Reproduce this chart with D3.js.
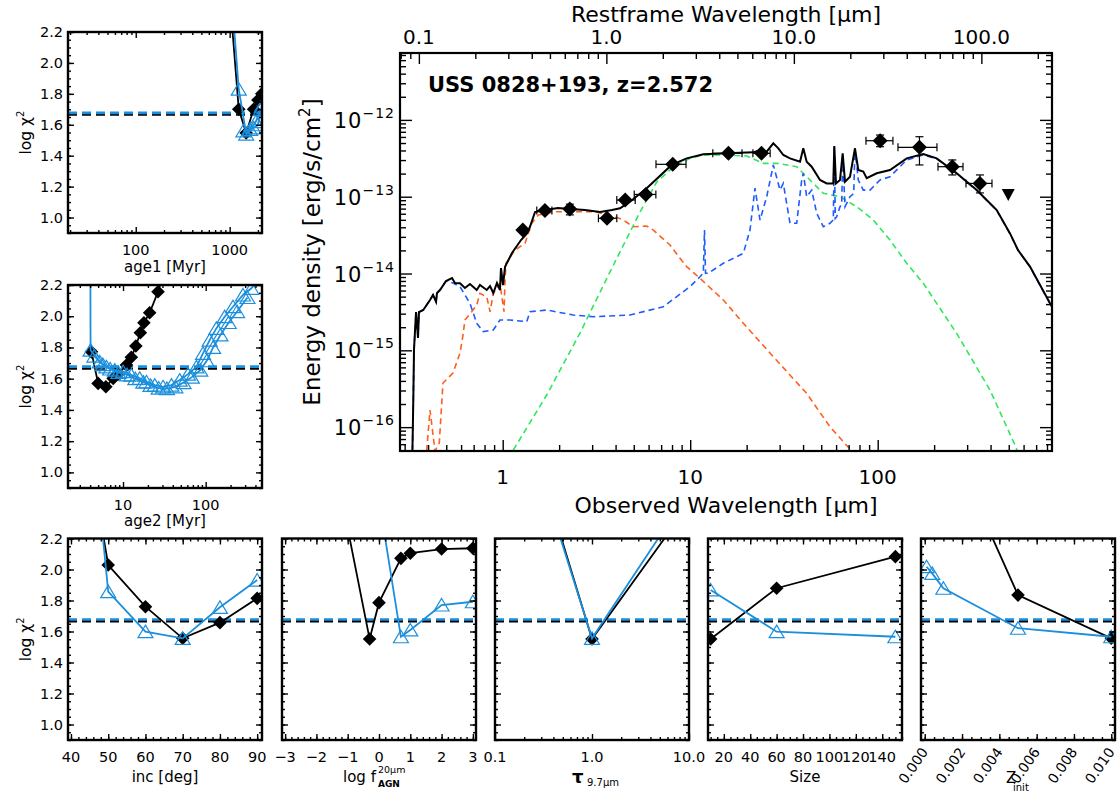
<!DOCTYPE html>
<html><head><meta charset="utf-8">
<script src="https://cdn.jsdelivr.net/npm/d3@7"></script>
<style>
body{margin:0;background:#fff;}
svg{display:block;background:#fff;}
text{font-family:"DejaVu Sans",sans-serif;fill:#000;}
</style></head><body>
<svg id="c" width="1119" height="794"></svg>
<script>
// ---------------- DATA ----------------
const redshift = 2.572;
const sourceName = "USS 0828+193, z=2.572";
const obsRange = [0.2833, 850.5];          // observed wavelength [um]
const fluxRange = [4.89e-17, 7.43e-12];    // energy density [erg/s/cm2]

// [observed wavelength um, flux]
const totalModel = [[0.330,4.9e-17],[0.3336,2.25e-16],[0.3364,1.01e-15],[0.345,3.15e-15],[0.3534,1.45e-15],[0.3577,3.15e-15],[0.377,3.35e-15],[0.4095,4.52e-15],[0.425,5.25e-15],[0.441,4.30e-15],[0.4463,5.57e-15],[0.463,6.10e-15],[0.4985,7.98e-15],[0.5366,8.73e-15],[0.5566,7.52e-15],[0.592,7.45e-15],[0.629,6.48e-15],[0.669,7.30e-15],[0.727,6.10e-15],[0.756,7.08e-15],[0.822,6.10e-15],[0.856,6.88e-15],[0.891,5.57e-15],[0.932,7.52e-15],[0.967,6.10e-15],[0.979,1.18e-14],[1.004,7.08e-15],[1.029,1.22e-14],[1.121,1.85e-14],[1.252,2.73e-14],[1.348,3.33e-14],[1.398,4.06e-14],[1.487,6.32e-14],[1.681,6.71e-14],[1.972,7.13e-14],[2.286,6.92e-14],[2.748,6.71e-14],[3.304,6.32e-14],[3.828,6.71e-14],[4.223,7.06e-14],[4.775,8.61e-14],[5.861,1.29e-13],[7.967,2.59e-13],[9.58,3.16e-13],[11.75,3.56e-13],[15.65,3.67e-13],[21.71,3.78e-13],[23.57,4.06e-13],[25.59,3.85e-13],[27.75,4.95e-13],[29.51,4.27e-13],[31.38,3.49e-13],[34.07,3.16e-13],[38.52,2.86e-13],[40.11,4.27e-13],[41.81,2.86e-13],[44.46,2.46e-13],[49.24,1.65e-13],[53.46,1.49e-13],[57.97,1.49e-13],[58.69,4.57e-13],[59.93,1.49e-13],[62.94,1.65e-13],[65.06,3.67e-13],[66.93,1.57e-13],[71.17,1.82e-13],[75.66,4.27e-13],[78.80,2.23e-13],[83.80,2.12e-13],[87.37,1.74e-13],[98.79,2.02e-13],[116.3,2.23e-13],[142.8,3.16e-13],[175.1,3.60e-13],[206.4,3.16e-13],[263.9,2.02e-13],[337.3,1.22e-13],[431.3,6.71e-14],[507.7,3.33e-14],[560.2,2.02e-14],[649.1,1.23e-14],[829.7,4.09e-15],[850.5,3.70e-15]];

const stellarModel = [[0.393,4.9e-17],[0.4095,1.67e-16],[0.4355,4.9e-17],[0.459,6.21e-17],[0.4803,3.75e-16],[0.543,5.06e-16],[0.592,9.23e-16],[0.612,1.50e-15],[0.629,2.48e-15],[0.683,3.18e-15],[0.727,3.89e-15],[0.756,5.52e-15],[0.822,4.99e-15],[0.856,3.18e-15],[0.891,5.52e-15],[0.967,7.45e-15],[1.016,3.18e-15],[1.029,8.23e-15],[1.041,1.36e-14],[1.163,2.02e-14],[1.315,2.47e-14],[1.428,4.51e-14],[1.549,5.78e-14],[1.900,6.38e-14],[2.521,6.38e-14],[3.107,6.38e-14],[3.972,5.49e-14],[4.398,4.97e-14],[4.972,4.06e-14],[5.861,4.15e-14],[6.356,3.68e-14],[7.803,2.35e-14],[8.822,1.58e-14],[9.58,1.23e-14],[11.28,8.65e-15],[15.02,4.52e-15],[19.2,2.25e-15],[27.75,8.26e-16],[41.81,2.75e-16],[55.67,1.01e-16],[70.55,5.30e-17],[73.8,4.34e-17]];

const starburstModel = [[0.330,4.9e-17],[0.3336,2.25e-16],[0.3364,1.01e-15],[0.345,3.15e-15],[0.3534,1.45e-15],[0.3577,3.15e-15],[0.377,3.35e-15],[0.4095,4.52e-15],[0.425,5.25e-15],[0.441,4.30e-15],[0.4463,5.57e-15],[0.463,6.10e-15],[0.4985,7.98e-15],[0.543,7.52e-15],[0.592,6.73e-15],[0.669,4.09e-15],[0.727,2.25e-15],[0.788,1.75e-15],[0.891,1.84e-15],[0.967,2.48e-15],[1.094,2.48e-15],[1.343,2.36e-15],[1.398,3.18e-15],[1.717,3.35e-15],[2.380,2.88e-15],[3.042,2.74e-15],[4.775,2.88e-15],[7.187,3.70e-15],[9.975,6.73e-15],[11.28,9.08e-15],[11.75,1.01e-14],[11.92,3.68e-14],[12.07,1.01e-14],[12.49,1.01e-14],[15.02,1.36e-14],[19.2,1.83e-14],[20.84,3.68e-14],[22.16,1.29e-13],[23.57,4.97e-14],[25.59,1.00e-13],[27.75,2.59e-13],[30.13,1.22e-13],[31.38,1.49e-13],[34.07,4.51e-14],[36.98,4.51e-14],[39.33,1.65e-13],[40.11,2.02e-13],[41.81,1.00e-13],[44.46,1.22e-13],[47.28,6.08e-14],[51.28,4.06e-14],[55.67,4.51e-14],[58.0,5.0e-14],[58.69,4.50e-13],[59.4,5.2e-14],[60.44,5.49e-14],[62.94,7.41e-14],[64.3,8.0e-14],[65.06,3.60e-13],[66.93,7.41e-14],[71.17,1.00e-13],[74.5,1.1e-13],[75.66,4.20e-13],[78.80,1.65e-13],[83.80,1.22e-13],[90.98,1.22e-13],[102.9,1.65e-13],[116.3,1.82e-13],[142.8,3.01e-13],[175.1,3.49e-13],[206.4,3.12e-13],[263.9,2.00e-13],[337.3,1.21e-13],[431.3,6.65e-14],[507.7,3.30e-14],[560.2,2.00e-14],[649.1,1.22e-14],[829.7,4.05e-15],[850.5,3.67e-15]];

const agnModel = [[1.139,5.03e-17],[1.717,2.62e-16],[2.584,1.68e-15],[3.735,1.05e-14],[4.775,3.47e-14],[5.399,6.32e-14],[6.627,1.55e-13],[8.126,2.44e-13],[9.975,3.16e-13],[11.75,3.49e-13],[15.02,3.49e-13],[20.01,3.39e-13],[24.55,2.72e-13],[28.93,2.72e-13],[36.98,2.46e-13],[43.55,1.65e-13],[51.28,1.11e-13],[62.94,1.00e-13],[77.27,7.41e-14],[94.75,4.97e-14],[116.3,2.73e-14],[142.8,1.36e-14],[175.1,7.45e-15],[263.9,1.66e-15],[397.1,3.04e-16],[539.9,5.85e-17],[553.4,5.03e-17]];

const photWave   = [1.28, 1.68, 2.28, 3.6, 4.5, 5.8, 8.07, 16.0, 24.0, 103, 167, 250, 351];
const photFlux   = [3.68e-14, 6.6e-14, 6.9e-14, 5.24e-14, 9.06e-14, 1.07e-13, 2.64e-13, 3.67e-13, 3.67e-13, 5.36e-13, 4.40e-13, 2.46e-13, 1.49e-13];
const photWaveLo = [null, 1.52, null, 3.24, 4.06, 5.03, 6.57, 13.2, 21.6, 86.6, 128.3, 209.7, 295.7];
const photWaveHi = [null, 1.83, null, 4.06, 5.09, 6.56, 9.50, 18.9, 26.7, 120.6, 207.1, 285.1, 407.0];
const photFluxLo = [null, null, 5.8e-14, null, null, null, null, null, null, 4.48e-13, 2.59e-13, 1.92e-13, 1.12e-13];
const photFluxHi = [null, null, 8.0e-14, null, null, null, null, null, null, 6.35e-13, 6.04e-13, 3.01e-13, 1.92e-13];
const limitWave = [497];
const limitFlux = [1.05e-13];

// chi-square panels
const chiRange = [0.9, 2.2];
const chiRefBlack = 1.666;
const chiRefBlue = 1.677;

const age1Grid     = [1000, 1250, 1500, 1800, 2000, 2200];
const age1ChiBlack = [2.44, 1.70, 1.547, 1.70, 1.76, 1.80];
const age1ChiBlue  = [2.60, 1.83, 1.54, 1.58, 1.60, 1.72];
const age1GridBlue2 = [1400, 1650, 1900, 2150];
const age1ChiBlue2  = [1.56, 1.57, 1.62, 1.70];

const age2GridBlack = [4.15, 5.0, 6.2, 7.6, 8.7, 11.0, 12.6, 14.3, 16.2, 17.9, 21.0, 26.5, 33.0];
const age2ChiBlack  = [1.772, 1.570, 1.548, 1.602, 1.629, 1.687, 1.737, 1.809, 1.894, 1.958, 2.022, 2.157, 2.32];
const age2GridBlue  = [4.0, 4.05, 5.22, 6.3, 7.94, 10, 12.6, 15.9, 19.2, 24.2, 30.5, 38.5, 48.5, 61.1, 77.2, 92.8, 111.6, 134.5, 169.8, 214, 282.5, 357, 450];
const age2ChiBlue   = [3.0, 1.783, 1.708, 1.676, 1.655, 1.645, 1.623, 1.602, 1.580, 1.559, 1.548, 1.559, 1.591, 1.629, 1.676, 1.762, 1.847, 1.922, 1.997, 2.061, 2.136, 2.179, 2.25];
const age2GridBlue2 = [4.5, 5.7, 7.0, 8.8, 11.2, 14.1, 17.6, 21.5, 27, 34, 43, 54, 68, 86, 103, 123, 151, 190, 240, 320];
const age2ChiBlue2  = [1.745, 1.690, 1.662, 1.640, 1.625, 1.600, 1.578, 1.557, 1.540, 1.537, 1.548, 1.575, 1.610, 1.655, 1.715, 1.800, 1.880, 1.960, 2.030, 2.120];

const incGrid     = [40, 50, 60, 70, 80, 90];
const incChiBlack = [3.45, 2.029, 1.760, 1.556, 1.657, 1.814];
const incChiBlue  = [4.31, 1.857, 1.599, 1.556, 1.756, 1.932];

const fagnGrid     = [-3, -2, -1, -0.3, 0, 0.7, 1, 2, 3];
const fagnChiBlack = [2.9, 2.6, 2.264, 1.552, 1.786, 2.072, 2.105, 2.132, 2.137];
const fagnChiBlue  = [3.6, 3.2, 2.9, 2.8, 2.45, 1.566, 1.610, 1.771, 1.792];

const tauGrid     = [0.1, 1.0, 10.0];
const tauChiBlack = [3.61, 1.552, 2.42];
const tauChiBlue  = [3.54, 1.556, 2.50];

const sizeGrid     = [10, 60, 150];
const sizeChiBlack = [1.552, 1.879, 2.083];
const sizeChiBlue  = [1.868, 1.599, 1.566];

const zGrid     = [0.0001, 0.0004, 0.001, 0.005, 0.01];
const zChiBlack = [3.1, 3.05, 2.91, 1.835, 1.556];
const zChiBlue  = [2.018, 1.975, 1.879, 1.621, 1.566];

// ---------------- DRAWING ----------------
const C_ORANGE = "#ff5f1f", C_BLUE = "#1f5bff", C_GREEN = "#2ee85c", C_PBLUE = "#1c8fdc";
const svg = d3.select("#c");
const defs = svg.append("defs");
function clip(id, x, y, w, h) {
  defs.append("clipPath").attr("id", id).append("rect").attr("x", x).attr("y", y).attr("width", w).attr("height", h);
  return `url(#${id})`;
}
function ticks(parent, axisGen, tx, ty, sw) {
  const g = parent.append("g").attr("transform", `translate(${tx},${ty})`).call(axisGen);
  g.select(".domain").remove();
  g.selectAll(".tick text").remove();
  g.selectAll(".tick line").attr("stroke", "#000").attr("stroke-width", sw || 1.4);
  return g;
}
const isDecade = v => Math.abs(Math.log10(v) - Math.round(Math.log10(v))) < 1e-6;
const diamond = r => `M0,${-r}L${r},0L0,${r}L${-r},0Z`;
const triUp = "M0,-6.5L7.5,6L-7.5,6Z";
const triDown = "M-6.5,-6L6.5,-6L0,6Z";

// ---- main SED panel ----
const MP = {l: 400, r: 1052, t: 53, b: 451};
const x = d3.scaleLog().domain(obsRange).range([MP.l, MP.r]);
const xRest = d3.scaleLog().domain(obsRange.map(v => v / (1 + redshift))).range([MP.l, MP.r]);
const y = d3.scaleLog().domain(fluxRange).range([MP.b, MP.t]);
const main = svg.append("g");
const plot = main.append("g").attr("clip-path", clip("cmain", MP.l, MP.t, MP.r - MP.l, MP.b - MP.t));
const line = d3.line().x(d => x(d[0])).y(d => y(d[1]));
plot.append("path").datum(stellarModel).attr("d", line).attr("fill", "none").attr("stroke", C_ORANGE).attr("stroke-width", 1.6).attr("stroke-dasharray", "6,4");
plot.append("path").datum(agnModel).attr("d", line).attr("fill", "none").attr("stroke", C_GREEN).attr("stroke-width", 1.6).attr("stroke-dasharray", "6,4");
plot.append("path").datum(starburstModel).attr("d", line).attr("fill", "none").attr("stroke", C_BLUE).attr("stroke-width", 1.6).attr("stroke-dasharray", "6,4");
plot.append("path").datum(totalModel).attr("d", line).attr("fill", "none").attr("stroke", "#000").attr("stroke-width", 2);

// error bars and points
photWave.forEach((w, i) => {
  const px = x(w), py = y(photFlux[i]);
  if (photWaveLo[i] !== null) {
    const a = x(photWaveLo[i]), b = x(photWaveHi[i]);
    plot.append("line").attr("x1", a).attr("x2", b).attr("y1", py).attr("y2", py).attr("stroke", "#000").attr("stroke-width", 1.2);
    [a, b].forEach(e => plot.append("line").attr("x1", e).attr("x2", e).attr("y1", py - 4).attr("y2", py + 4).attr("stroke", "#000").attr("stroke-width", 1.2));
  }
  if (photFluxLo[i] !== null) {
    const a = y(photFluxLo[i]), b = y(photFluxHi[i]);
    plot.append("line").attr("x1", px).attr("x2", px).attr("y1", a).attr("y2", b).attr("stroke", "#000").attr("stroke-width", 1.2);
    [a, b].forEach(e => plot.append("line").attr("x1", px - 4).attr("x2", px + 4).attr("y1", e).attr("y2", e).attr("stroke", "#000").attr("stroke-width", 1.2));
  }
  plot.append("path").attr("d", diamond(7.5)).attr("transform", `translate(${px},${py})`).attr("fill", "#000");
});
limitWave.forEach((w, i) => {
  plot.append("path").attr("d", triDown).attr("transform", `translate(${x(w)},${y(limitFlux[i])})`).attr("fill", "#000");
});

// axes ticks
const obsMajor = x.ticks().filter(isDecade), obsMinor = x.ticks().filter(v => !isDecade(v));
const restMajor = xRest.ticks().filter(isDecade), restMinor = xRest.ticks().filter(v => !isDecade(v));
const fMajor = y.ticks().filter(isDecade), fMinor = y.ticks().filter(v => !isDecade(v));
ticks(main, d3.axisBottom(x).tickValues(obsMajor).tickSize(-11), 0, MP.b);
ticks(main, d3.axisBottom(x).tickValues(obsMinor).tickSize(-6), 0, MP.b);
ticks(main, d3.axisTop(xRest).tickValues(restMajor).tickSize(-11), 0, MP.t);
ticks(main, d3.axisTop(xRest).tickValues(restMinor).tickSize(-6), 0, MP.t);
ticks(main, d3.axisLeft(y).tickValues(fMajor).tickSize(-12), MP.l, 0);
ticks(main, d3.axisLeft(y).tickValues(fMinor).tickSize(-6), MP.l, 0);
ticks(main, d3.axisRight(y).tickValues(fMajor).tickSize(-12), MP.r, 0);
ticks(main, d3.axisRight(y).tickValues(fMinor).tickSize(-6), MP.r, 0);
main.append("rect").attr("x", MP.l).attr("y", MP.t).attr("width", MP.r - MP.l).attr("height", MP.b - MP.t).attr("fill", "none").attr("stroke", "#000").attr("stroke-width", 2.2);

// labels
obsMajor.forEach(v => main.append("text").attr("x", x(v)).attr("y", MP.b + 33).attr("text-anchor", "middle").attr("font-size", 20).text(String(v)));
restMajor.forEach(v => main.append("text").attr("x", xRest(v)).attr("y", MP.t - 9).attr("text-anchor", "middle").attr("font-size", 20).text(v.toFixed(1)));
fMajor.forEach(v => {
  const t = main.append("text").attr("x", MP.l - 5).attr("y", y(v) + 8).attr("text-anchor", "end").attr("font-size", 21).attr("letter-spacing", 1);
  t.append("tspan").text("10");
  t.append("tspan").attr("font-size", 14).attr("dy", -10).text("\u2212" + Math.round(-Math.log10(v)));
});
main.append("text").attr("x", (MP.l + MP.r) / 2).attr("y", 22).attr("text-anchor", "middle").attr("font-size", 22).text("Restframe Wavelength [\u03bcm]");
main.append("text").attr("x", (MP.l + MP.r) / 2).attr("y", 513).attr("text-anchor", "middle").attr("font-size", 22).text("Observed Wavelength [\u03bcm]");
const yt = main.append("text").attr("transform", `translate(320,${(MP.t + MP.b) / 2}) rotate(-90)`).attr("text-anchor", "middle").attr("font-size", 23);
yt.append("tspan").text("Energy density [erg/s/cm");
yt.append("tspan").attr("font-size", 15).attr("dy", -10).text("2");
yt.append("tspan").attr("dy", 10).text("]");
main.append("text").attr("x", 428).attr("y", 92).attr("font-size", 21).attr("font-weight", "bold").text(sourceName);

// ---- chi-square panels ----
function panel(p) {
  const g = svg.append("g");
  const xs = (p.log ? d3.scaleLog() : d3.scaleLinear()).domain(p.xDomain).range([p.x, p.x + p.w]);
  const ys = d3.scaleLinear().domain(chiRange).range([p.y + p.h, p.y]);
  const inner = g.append("g").attr("clip-path", clip("cp" + p.id, p.x, p.y, p.w, p.h));
  inner.append("line").attr("x1", p.x).attr("x2", p.x + p.w).attr("y1", ys(chiRefBlack)).attr("y2", ys(chiRefBlack)).attr("stroke", "#000").attr("stroke-width", 2.6).attr("stroke-dasharray", "9,5");
  inner.append("line").attr("x1", p.x).attr("x2", p.x + p.w).attr("y1", ys(chiRefBlue)).attr("y2", ys(chiRefBlue)).attr("stroke", C_PBLUE).attr("stroke-width", 2.6).attr("stroke-dasharray", "9,5");
  const ln = d3.line().x(d => xs(d[0])).y(d => ys(d[1]));
  const blk = p.bx.map((v, i) => [v, p.by[i]]);
  const bluSets = [p.ux.map((v, i) => [v, p.uy[i]])];
  if (p.ux2) bluSets.push(p.ux2.map((v, i) => [v, p.uy2[i]]));
  inner.append("path").datum(blk).attr("d", ln).attr("fill", "none").attr("stroke", "#000").attr("stroke-width", 1.8);
  blk.forEach(d => inner.append("path").attr("d", diamond(6.8)).attr("transform", `translate(${xs(d[0])},${ys(d[1])})`).attr("fill", "#000"));
  bluSets.forEach(blu => {
    inner.append("path").datum(blu).attr("d", ln).attr("fill", "none").attr("stroke", C_PBLUE).attr("stroke-width", 1.8);
    blu.forEach(d => inner.append("path").attr("d", triUp).attr("transform", `translate(${xs(d[0])},${ys(d[1])})`).attr("fill", "none").attr("stroke", C_PBLUE).attr("stroke-width", 1.2));
  });
  // ticks
  let xMaj, xMin;
  if (p.log) { xMaj = xs.ticks().filter(isDecade); xMin = xs.ticks().filter(v => !isDecade(v)); }
  else { xMaj = xs.ticks(p.nMaj); xMin = xs.ticks(p.nMin); }
  const yMaj = ys.ticks(7), yMin = ys.ticks(26);
  ticks(g, d3.axisBottom(xs).tickValues(xMaj).tickSize(-6), 0, p.y + p.h);
  ticks(g, d3.axisBottom(xs).tickValues(xMin).tickSize(-3), 0, p.y + p.h);
  ticks(g, d3.axisTop(xs).tickValues(xMaj).tickSize(-6), 0, p.y);
  ticks(g, d3.axisTop(xs).tickValues(xMin).tickSize(-3), 0, p.y);
  ticks(g, d3.axisLeft(ys).tickValues(yMaj).tickSize(-6), p.x, 0);
  ticks(g, d3.axisLeft(ys).tickValues(yMin).tickSize(-3), p.x, 0);
  ticks(g, d3.axisRight(ys).tickValues(yMaj).tickSize(-6), p.x + p.w, 0);
  ticks(g, d3.axisRight(ys).tickValues(yMin).tickSize(-3), p.x + p.w, 0);
  g.append("rect").attr("x", p.x).attr("y", p.y).attr("width", p.w).attr("height", p.h).attr("fill", "none").attr("stroke", "#000").attr("stroke-width", 2.4);
  // tick labels
  const lbY = p.y + p.h + 22;
  if (p.rotLabels) {
    xMaj.forEach(v => g.append("text").attr("transform", `translate(${xs(v) + 4},${p.y + p.h + 12}) rotate(-55)`).attr("text-anchor", "end").attr("font-size", 14).text(p.fmt(v)));
  } else {
    xMaj.forEach(v => g.append("text").attr("x", xs(v)).attr("y", lbY).attr("text-anchor", "middle").attr("font-size", 14.5).text(p.fmt(v)));
  }
  if (p.yLabels) {
    yMaj.forEach(v => g.append("text").attr("x", p.x - 5).attr("y", ys(v) + 5).attr("text-anchor", "end").attr("font-size", 14.5).text(v.toFixed(1)));
    const t = g.append("text").attr("transform", `translate(31,${p.y + p.h / 2}) rotate(-90)`).attr("text-anchor", "middle").attr("font-size", 15.5);
    t.append("tspan").text("log \u03c7");
    t.append("tspan").attr("font-size", 10).attr("dy", -7).text("2");
  }
  p.title(g, p.x + p.w / 2, p.y + p.h);
  return g;
}
const fmtInt = d3.format("d");
const simpleTitle = (s, dy) => (g, cx, by) => g.append("text").attr("x", cx).attr("y", by + dy).attr("text-anchor", "middle").attr("font-size", 15).text(s);

panel({id: "a1", x: 68, y: 32, w: 194, h: 201, log: true, xDomain: [19, 2210], bx: age1Grid, by: age1ChiBlack, ux: age1Grid, uy: age1ChiBlue, ux2: age1GridBlue2, uy2: age1ChiBlue2, fmt: fmtInt, yLabels: true, title: simpleTitle("age1 [Myr]", 39)});
panel({id: "a2", x: 68, y: 285, w: 194, h: 203, log: true, xDomain: [2.16, 480], bx: age2GridBlack, by: age2ChiBlack, ux: age2GridBlue, uy: age2ChiBlue, ux2: age2GridBlue2, uy2: age2ChiBlue2, fmt: fmtInt, yLabels: true, title: simpleTitle("age2 [Myr]", 38)});
panel({id: "inc", x: 68, y: 538.5, w: 194, h: 201.5, log: false, xDomain: [39.2, 91.3], nMaj: 5, nMin: 26, bx: incGrid, by: incChiBlack, ux: incGrid, uy: incChiBlue, fmt: fmtInt, yLabels: true, title: simpleTitle("inc [deg]", 42)});
panel({id: "fagn", x: 282, y: 538.5, w: 194, h: 201.5, log: false, xDomain: [-3.1, 3.1], nMaj: 6, nMin: 31, bx: fagnGrid, by: fagnChiBlack, ux: fagnGrid, uy: fagnChiBlue, fmt: d3.format("d"), yLabels: false,
  title: (g, cx, by) => {
    g.append("text").attr("x", 343).attr("y", by + 42).attr("font-size", 15).text("log f");
    g.append("text").attr("x", 378).attr("y", by + 33).attr("font-size", 9.5).text("20\u03bcm");
    g.append("text").attr("x", 378).attr("y", by + 47).attr("font-size", 9).attr("font-weight", "bold").text("AGN");
  }});
panel({id: "tau", x: 495, y: 538.5, w: 194, h: 201.5, log: true, xDomain: [0.1, 10], bx: tauGrid, by: tauChiBlack, ux: tauGrid, uy: tauChiBlue, fmt: v => v.toFixed(1), yLabels: false,
  title: (g, cx, by) => {
    g.append("text").attr("x", 572).attr("y", by + 43).attr("font-size", 18).attr("font-weight", "bold").text("\u03c4");
    g.append("text").attr("x", 587).attr("y", by + 46).attr("font-size", 10).text("9.7\u03bcm");
  }});
panel({id: "size", x: 708, y: 538.5, w: 194, h: 201.5, log: false, xDomain: [8, 155], nMaj: 7, nMin: 29, bx: sizeGrid, by: sizeChiBlack, ux: sizeGrid, uy: sizeChiBlue, fmt: fmtInt, yLabels: false, title: simpleTitle("Size", 42)});
panel({id: "z", x: 921, y: 538.5, w: 194, h: 201.5, log: false, xDomain: [-0.0002, 0.0102], nMaj: 5, nMin: 21, bx: zGrid, by: zChiBlack, ux: zGrid, uy: zChiBlue, fmt: v => v.toFixed(3), yLabels: false, rotLabels: true,
  title: (g, cx, by) => {
    g.append("text").attr("x", 1006).attr("y", by + 43).attr("font-size", 15).text("Z");
    g.append("text").attr("x", 1013).attr("y", by + 51).attr("font-size", 10).text("init");
  }});
</script></body></html>
